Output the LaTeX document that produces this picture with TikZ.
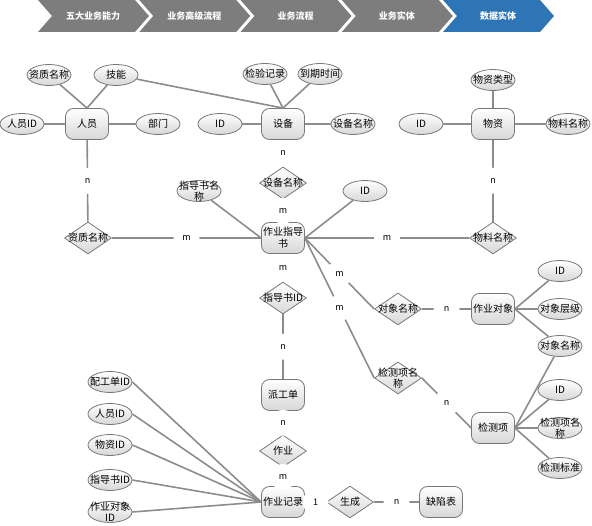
\documentclass[tikz,border=0pt]{standalone}
\usepackage{fontspec}
\setmainfont{Noto Sans CJK SC}
\usetikzlibrary{shapes.geometric}
\definecolor{linegray}{RGB}{140,140,140}
\definecolor{edgegray}{RGB}{120,120,120}
\definecolor{fillgray}{RGB}{215,215,215}
\definecolor{stagegray}{RGB}{125,125,125}
\definecolor{stageblue}{RGB}{46,117,182}
\tikzset{
  ent/.style={rectangle,rounded corners=8pt,draw=edgegray,line width=0.8pt,
              top color=white,bottom color=fillgray,minimum width=43pt,
              minimum height=31pt,inner sep=0pt,align=center,
              font=\fontsize{10}{12}\selectfont},
  attr/.style={ellipse,draw=edgegray,line width=0.8pt,top color=white,
               bottom color=fillgray,minimum width=44pt,minimum height=21pt,
               inner sep=0pt},
  rel/.style={diamond,draw=edgegray,line width=0.8pt,top color=white,
              bottom color=fillgray,minimum width=47pt,minimum height=32pt,
              inner sep=0pt},
  inner/.style={align=center,inner sep=0pt,font=\fontsize{10}{11.5}\selectfont},
  link/.style={draw=linegray,line width=1.6pt},
  card/.style={circle,fill=white,inner sep=0pt,minimum size=26pt,
               font=\fontsize{9}{9}\selectfont},
  stagetext/.style={text=white,font=\fontsize{9}{9}\selectfont\bfseries}
}
\begin{document}
\begin{tikzpicture}[x=1pt,y=-1pt]
\useasboundingbox (0,0) rectangle (592,526);
% ---- stage banner ----
\foreach \i/\txt in {0/五大业务能力,1/业务高级流程,2/业务流程,3/业务实体,4/数据实体}{
  \pgfmathsetmacro{\l}{38+101.25*\i}
  \ifnum\i=4 \def\stagecol{stageblue}\else\def\stagecol{stagegray}\fi
  \fill[\stagecol] (\l,0) -- (\l+97,0) -- (\l+111,16) -- (\l+97,32)
    -- (\l,32) -- (\l+14,16) -- cycle;
  \node[stagetext] (stage\i) at (\l+55,16) {\txt};
}
% ---- entities ----
\foreach \n/\x/\y/\txt in {
  ry/87/124/人员, sb/283/124/设备, wz/493/124/物资,
  zyzds/283/238/作业指导\\书, zydx/493/309/作业对象, jcx/493/428/检测项,
  pgd/283/395/派工单, zyjl/283/502/作业记录, qxb/441/502/缺陷表%
}{
  \node[ent] (\n) at (\x,\y) {\txt};
}
% ---- attributes ----
\foreach \n/\x/\y/\txt in {
  zzmc/49/75/资质名称, jn/116/75/技能, ryid/22/124/人员ID, bm/158/124/部门,
  sbid/220/124/ID, jyjl/265/74/检验记录, dqsj/320/74/到期时间,
  sbmc/353/124/设备名称, wzlx/493/80/物资类型, wzid/421/124/ID,
  wlmc/568/124/物料名称, zdsmc/199/191/指导书名\\称, zdsid/365/191/ID,
  dxid/560/271/ID, dxcj/560/309/对象层级, dxmc/560/346/对象名称,
  jcxid/560/390/ID, jcxmc/560/428/检测项名\\称, jcbz/560/468/检测标准,
  pgdid/110/382/配工单ID, ryid2/110/414/人员ID, wzid2/110/445/物资ID,
  zdsid2/110/480/指导书ID, dxid2/110/512/作业对象\\ID%
}{
  \node[attr,label={[inner]center:\txt}] (\n) at (\x,\y) {};
}
% ---- relationships ----
\foreach \n/\x/\y/\txt in {
  rzz/88/238/资质名称, rsb/283/183/设备名称, rwl/493/238/物料名称,
  rzid/283/298/指导书ID, rdx/398/309/对象名称, rjc/398/378/检测项名\\称,
  rzy/283/451/作业, rsc/350/502/生成%
}{
  \node[rel,label={[inner]center:\txt}] (\n) at (\x,\y) {};
}
% ---- attribute links ----
\draw[link] (zzmc) -- (ry.north);
\draw[link] (jn) -- (ry.north);
\draw[link] (ryid) -- (ry);
\draw[link] (ry) -- (bm);
\draw[link] (jn) -- (sb.north);
\draw[link] (jyjl) -- (sb.north);
\draw[link] (dqsj) -- (sb.north);
\draw[link] (sbid) -- (sb);
\draw[link] (sb) -- (sbmc);
\draw[link] (wzlx) -- (wz);
\draw[link] (wzid) -- (wz);
\draw[link] (wz) -- (wlmc);
\draw[link] (zdsmc) -- (zyzds.west);
\draw[link] (zyzds.east) -- (zdsid);
\foreach \a in {dxid,dxcj,dxmc} \draw[link] (zydx.east) -- (\a);
\foreach \a in {dxmc,jcxid,jcxmc,jcbz} \draw[link] (jcx.east) -- (\a);
\foreach \a in {pgdid,ryid2,wzid2,zdsid2,dxid2} \draw[link] (\a.east) -- (zyjl.west);
% ---- relationship links with cardinality ----
\draw[link] (ry) -- node[card] (c1) {n} (rzz);
\draw[link] (rzz) -- node[card] (c2) {m} (zyzds);
\draw[link] (wz) -- node[card] (c3) {n} (rwl);
\draw[link] (rwl) -- node[card] (c4) {m} (zyzds);
\path (sb) -- node[card] (c5) {n} (rsb);
\path (rsb) -- node[card] (c6) {m} (zyzds);
\path (zyzds) -- node[card] (c7) {m} (rzid);
\draw[link] (rzid) -- node[card] (c8) {n} (pgd);
\path (pgd) -- node[card] (c9) {n} (rzy);
\path (rzy) -- node[card] (c10) {m} (zyjl);
\path (zyjl) -- node[card] (c11) {1} (rsc);
\draw[link] (rsc) -- node[card] (c12) {n} (qxb);
\draw[link] (zyzds.east) -- node[card] (c13) {m} (rdx.west);
\draw[link] (zyzds.east) -- node[card] (c14) {m} (rjc.west);
\draw[link] (rdx) -- node[card] (c15) {n} (zydx);
\draw[link] (rjc.east) -- node[card] (c16) {n} (jcx.west);
\end{tikzpicture}
\end{document}
